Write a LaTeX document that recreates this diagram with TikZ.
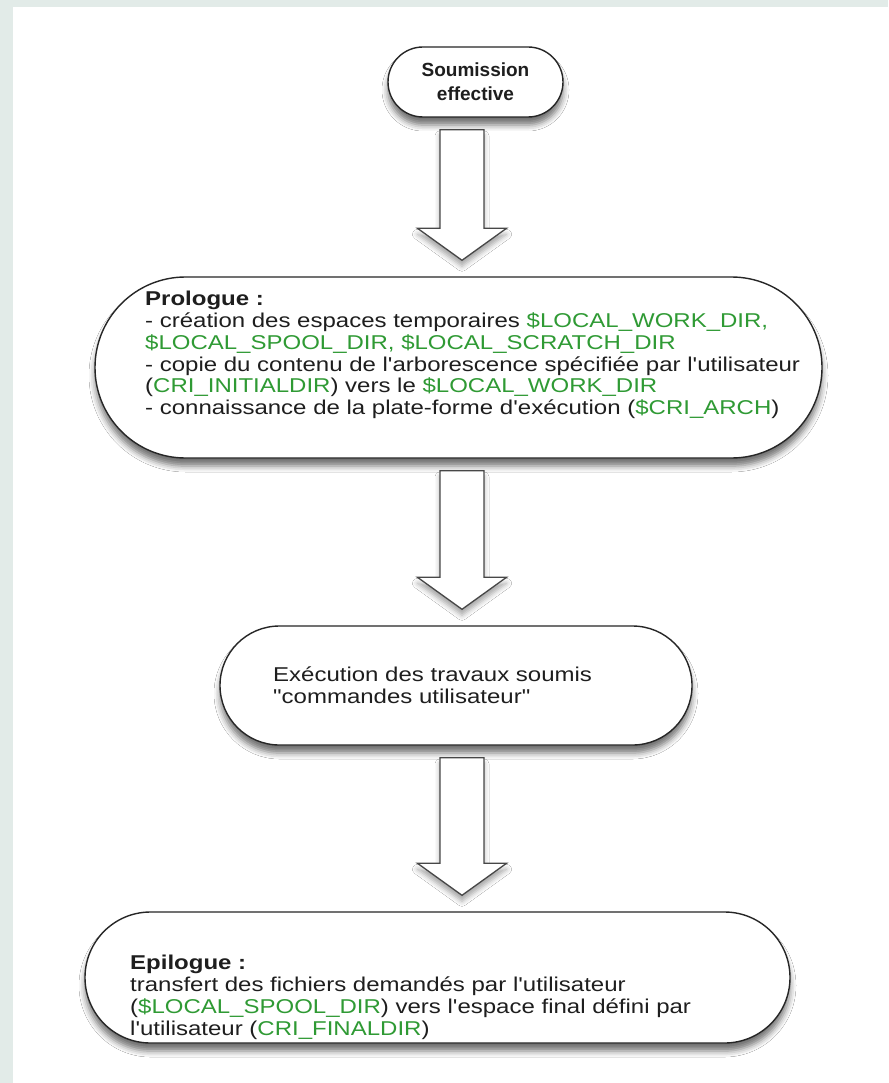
\documentclass[tikz,border=0pt]{standalone}
\usepackage{fontspec}
\setmainfont{Liberation Sans}[Ligatures=TeXOff]
\newfontfamily\bodyfont{Liberation Sans}[Ligatures=TeXOff, FakeStretch=1.2]
\usetikzlibrary{shapes.misc,shadows.blur,calc}

\definecolor{pagebg}{HTML}{E2EBE8}
\definecolor{varg}{HTML}{2F9A34}
\definecolor{ink}{HTML}{1E1E1E}
\definecolor{edge}{HTML}{262626}
\newcommand\varname[1]{\textcolor{varg}{#1}}

% block arrow from the bottom of one capsule to the top of the next
\newcommand\flowstep[2]{%
  \draw[flowarrow] let \p1=($(#1.south -| axis)+(0,-12pt)$),
                       \p2=($(#2.north -| axis)+(0,16pt)$) in
    (\x1-22pt,\y1) -- (\x1+22pt,\y1) -- (\x1+22pt,\y2+32pt)
    -- (\x1+44.5pt,\y2+32pt) -- (\x1,\y2) -- (\x1-44.5pt,\y2+32pt)
    -- (\x1-22pt,\y2+32pt) -- cycle;}

\tikzset{
  capsule/.style={shape=rounded rectangle, draw=edge, line width=1.4pt,
    fill=white, inner sep=0pt,
    blur shadow={shadow xshift=0pt, shadow yshift=-8pt,
      shadow blur radius=6pt, shadow opacity=55}},
  body/.style={text=ink, align=left, inner sep=0pt, anchor=north west,
    font=\bodyfont\fontsize{20}{21.8}\selectfont},
  flowarrow/.style={draw=edge!85, line width=1.3pt, fill=white,
    line join=miter,
    blur shadow={shadow xshift=0pt, shadow yshift=-6pt,
      shadow blur radius=5pt, shadow opacity=35}}
}

\begin{document}
\begin{tikzpicture}[x=1pt,y=1pt]
  % page and frame
  \fill[pagebg] (0,0) rectangle (888,-1083);
  \fill[white] (13,-7) rectangle (888,-1083);
  \useasboundingbox (0,0) rectangle (888,-1083);
  \coordinate (axis) at (462,0);

  % start
  \node[capsule, minimum width=175pt, minimum height=70pt, align=center,
        text=ink, font=\bfseries\fontsize{19}{24}\selectfont]
        (soum) at (475.5,-82) {Soumission\\effective};

  % prologue
  \node[capsule, minimum width=727pt, minimum height=181pt]
        (pro) at (458.5,-367.5) {};
  \node[body] (protext) at (145,-291) {\textbf{Prologue :}\\
    - création des espaces temporaires \varname{\$LOCAL\_WORK\_DIR,}\\
    \varname{\$LOCAL\_SPOOL\_DIR, \$LOCAL\_SCRATCH\_DIR}\\
    - copie du contenu de l'arborescence spécifiée par l'utilisateur\\
    (\varname{CRI\_INITIALDIR}) vers le \varname{\$LOCAL\_WORK\_DIR}\\
    - connaissance de la plate-forme d'exécution (\varname{\$CRI\_ARCH})};

  % execution
  \node[capsule, minimum width=472pt, minimum height=119pt]
        (exe) at (456,-685.5) {};
  \node[body] (exetext) at (273,-667) {Exécution des travaux soumis\\
    "commandes utilisateur"};

  % epilogue
  \node[capsule, minimum width=705pt, minimum height=131pt]
        (epi) at (437.5,-977.5) {};
  \node[body] (epitext) at (130,-955) {\textbf{Epilogue :}\\
    transfert des fichiers demandés par l'utilisateur\\
    (\varname{\$LOCAL\_SPOOL\_DIR}) vers l'espace final défini par\\
    l'utilisateur (\varname{CRI\_FINALDIR})};

  % connectors
  \flowstep{soum}{pro}
  \flowstep{pro}{exe}
  \flowstep{exe}{epi}
\end{tikzpicture}
\end{document}
